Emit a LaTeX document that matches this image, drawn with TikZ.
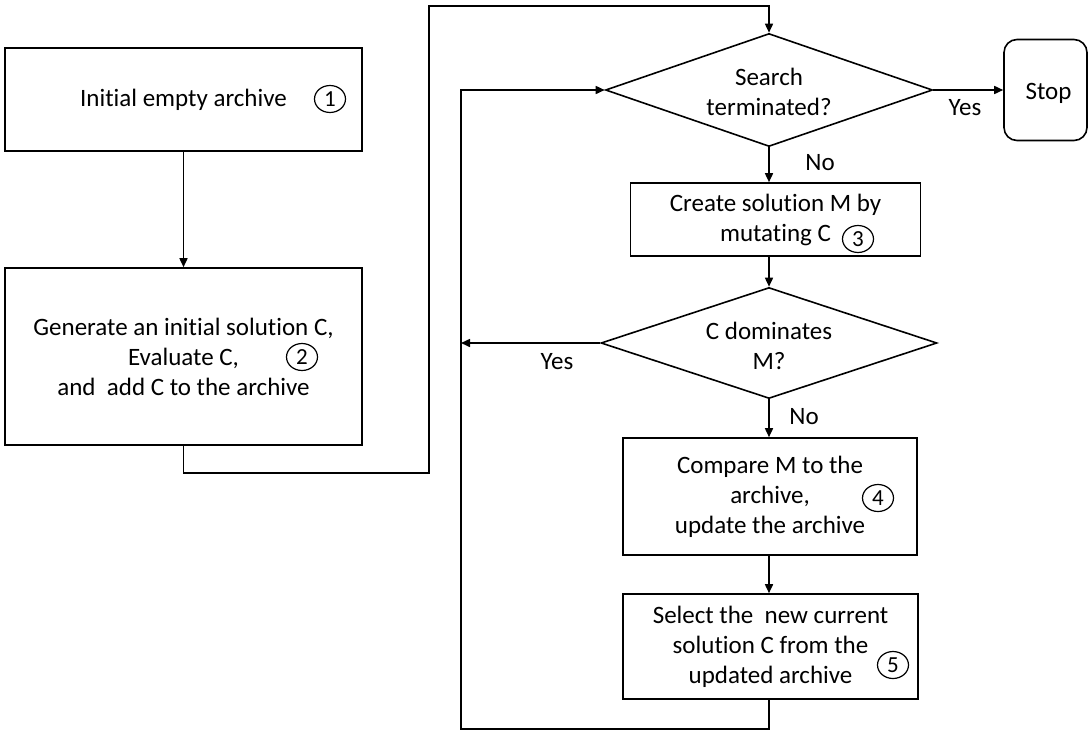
\documentclass[tikz,border=0pt]{standalone}
\usepackage{fontspec}
\setmainfont{Carlito}[Ligatures={NoCommon}]
\usetikzlibrary{shapes.geometric,arrows.meta}
\begin{document}
\begin{tikzpicture}[x=1pt,y=-1pt,
  every node/.style={font=\fontsize{25}{30}\selectfont},
  arr/.style={line width=1.6pt, -{Triangle[length=9pt,width=8pt]}},
  proc/.style={draw, line width=1.6pt, rectangle, inner sep=0pt, align=center},
  dec/.style={draw, line width=1.6pt, diamond, inner sep=0pt},
  txt/.style={inner sep=0pt, align=center},
  num/.style={draw, line width=1.2pt, ellipse, inner sep=0pt, minimum width=31pt, minimum height=27pt, font=\fontsize{23}{23}\selectfont},
  lab/.style={inner sep=0pt}
]
\useasboundingbox (0,0) rectangle (1089,731);

% process boxes
\node[proc, minimum width=357pt, minimum height=103pt] (b1) at (183.5,99.5) {Initial empty archive};
\node[proc, minimum width=357pt, minimum height=177pt] (b2) at (183.5,356.5) {Generate an initial solution C,\\Evaluate C,\\and\ \ add C to the archive};
\node[proc, minimum width=290pt, minimum height=73pt] (b3) at (775.5,219.5) {Create solution M by\\mutating C};
\node[proc, minimum width=294pt, minimum height=117pt] (b4) at (770,496.5) {Compare M to the\\archive,\\update the archive};
\node[proc, minimum width=295pt, minimum height=105pt] (b5) at (770.5,646.5) {Select the\ \ new current\\solution C from the\\updated archive};

% decisions
\node[dec, minimum width=327pt, minimum height=113pt] (d1) at (769,90) {};
\node[txt] (t1) at (769,92) {Search\\terminated?};
\node[dec, minimum width=336pt, minimum height=111pt] (d2) at (769,343) {};
\node[txt] (t2) at (769,346) {C dominates\\M?};

% terminal
\node[draw, line width=1.6pt, rounded corners=13pt, minimum width=83pt, minimum height=101pt, inner sep=0pt] (stop) at (1045.5,90) {\smash{\raisebox{-9pt}{\hspace*{6pt}Stop}}};

% step numbers
\node[num] (n1) at (330,99) {1};
\node[num] (n2) at (302,357) {2};
\node[num] (n3) at (858,239) {3};
\node[num] (n4) at (878,498) {4};
\node[num] (n5) at (893,665) {5};

% edge labels
\node[lab] (y1) at (965,108) {Yes};
\node[lab] (no1) at (820,163) {No};
\node[lab] (y2) at (557,362) {Yes};
\node[lab] (no2) at (804,417) {No};

% route coordinates
\coordinate (p1) at (429,473);
\coordinate (p2) at (429,6);
\coordinate (q1) at (461,729);
\coordinate (q2) at (461,90);

% connectors
\draw[arr] (b1) -- (b2);
\draw[arr] (b2.south) |- (p1) -- (p2) -| (d1.north);
\draw[arr] (d1.east) -- (stop.west);
\draw[arr] (d1.south) -- (d1.south |- b3.north);
\draw[arr] (d2.north |- b3.south) -- (d2.north);
\draw[arr] (d2.west) -- (d2.west -| q1);
\draw[arr] (d2.south) -- (d2.south |- b4.north);
\draw[arr] (d2.south |- b4.south) -- (d2.south |- b5.north);
\draw[arr] (d2.south |- b5.south) |- (q1) -- (q2) -- (d1.west);
\end{tikzpicture}
\end{document}
